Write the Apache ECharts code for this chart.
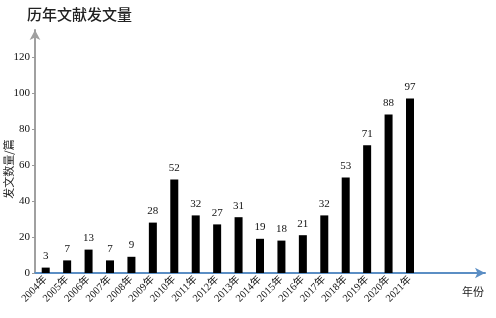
<!DOCTYPE html>
<html><head><meta charset="utf-8">
<script src="https://cdn.jsdelivr.net/npm/echarts@6/dist/echarts.min.js"></script>
<style>html,body{margin:0;padding:0;background:#fff}#c{width:496px;height:318px}</style>
</head><body><div id="c"></div>
<script>
const years = ['2004年','2005年','2006年','2007年','2008年','2009年','2010年','2011年','2012年','2013年','2014年','2015年','2016年','2017年','2018年','2019年','2020年','2021年'];
const counts = [3,7,13,7,9,28,52,32,27,31,19,18,21,32,53,71,88,97];
const yTicks = [0,20,40,60,80,100,120];
const titleText = '历年文献发文量';
const yName = '发文数量/篇';
const xName = '年份';

const padCats = years.concat(['','','']);
const serif = '"Liberation Serif","Noto Sans CJK SC",serif';
const cjk = '"Noto Sans CJK SC",serif';
const chart = echarts.init(document.getElementById('c'));
chart.setOption({
  animation: false,
  title: {text: titleText, left: 22, top: 2, textStyle: {fontSize: 15, fontWeight: 500, color: '#222', fontFamily: cjk}},
  grid: {left: 35, right: 11, top: 30, bottom: 45, containLabel: false, outerBoundsMode: 'none'},
  xAxis: {
    type: 'category', data: padCats,
    axisLine: {lineStyle: {color: '#5b8ec4', width: 2}, symbol: ['none','arrow'], symbolSize: [8, 10]},
    axisTick: {show: false},
    axisLabel: {rotate: 45, interval: 0, fontSize: 10.5, color: '#111', fontFamily: serif, margin: 5}
  },
  yAxis: {
    type: 'value', min: 0, max: 135, interval: 20,
    axisLine: {show: true, lineStyle: {color: '#a0a0a0', width: 2}, symbol: ['none','arrow'], symbolSize: [8, 10]},
    axisTick: {show: true, length: 3, lineStyle: {color: '#999'}},
    axisLabel: {showMaxLabel: false, fontSize: 11, color: '#111', fontFamily: serif, margin: 5},
    splitLine: {show: false}
  },
  series: [{
    type: 'bar', data: counts, barWidth: 8,
    itemStyle: {color: '#000'},
    label: {show: true, position: 'top', distance: 6, fontSize: 11, color: '#111', fontFamily: serif}
  }],
  graphic: [
    {type: 'text', left: 462, top: 286, style: {text: xName, fontSize: 11, fill: '#222', fontFamily: cjk}},
    {type: 'text', x: 9, y: 169, rotation: Math.PI / 2, style: {text: yName, fontSize: 11, fill: '#222', fontFamily: cjk, align: 'center', verticalAlign: 'middle'}}
  ]
});
</script></body></html>
